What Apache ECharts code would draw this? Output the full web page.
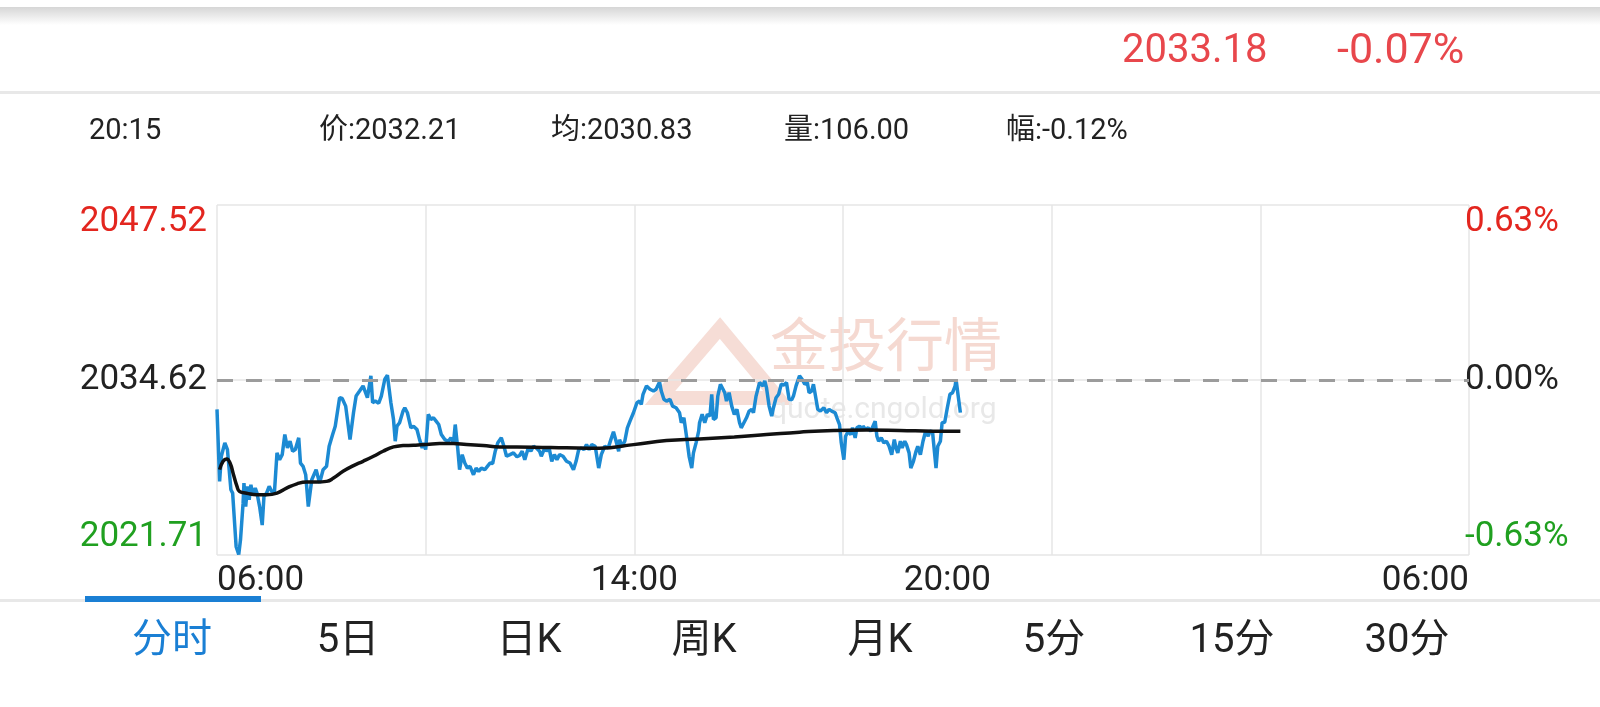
<!DOCTYPE html>
<html>
<head>
<meta charset="utf-8">
<script src="https://cdn.jsdelivr.net/npm/echarts@6/dist/echarts.min.js"></script>
<style>
html,body{margin:0;padding:0;background:#fff;}
#chart{width:1600px;height:707px;}
</style>
</head>
<body>
<div id="chart"></div>
<script>
// ---------- data ----------
const prevClose = 2034.62;
const yMin = 2021.71;
const yMax = 2047.52;
const yLeftLabels = ['2021.71', '2034.62', '2047.52'];
const yRightLabels = ['-0.63%', '0.00%', '0.63%'];
const xLabelMinutes = [0, 480, 840, 1440];
const xLabelTexts = ['06:00', '14:00', '20:00', '06:00'];

const headerTexts = ['2033.18', '-0.07%'];
const infoTexts = ['20:15', '价:2032.21', '均:2030.83', '量:106.00', '幅:-0.12%'];
const tabTexts = ['分时', '5日', '日K', '周K', '月K', '5分', '15分', '30分'];
const watermarkTexts = ['金投行情', 'quote.cngold.org'];

// minutes after 06:00
const priceMinutes = [0,3,5,9,12,16,18,22,25,27,30,31,33,35,37,39,41,44,46,49,52,54,57,60,63,66,69,72,75,78,81,84,87,90,94,96,99,102,105,109,114,118,122,126,129,133,136,141,144,148,153,157,160,164,168,170,173,177,179,182,186,189,193,196,200,203,205,207,210,214,216,219,223,226,230,233,236,238,240,243,246,249,252,255,258,262,266,269,272,274,277,279,282,285,288,291,295,298,301,304,308,311,314,317,320,323,327,330,333,337,341,345,348,351,354,358,361,364,367,371,373,377,379,382,385,388,391,394,398,402,406,410,413,416,419,422,425,428,431,435,439,442,446,450,453,456,459,462,463,466,469,472,475,479,483,486,488,490,494,498,502,505,509,511,514,517,521,524,528,532,534,537,540,543,546,548,551,554,555,558,561,564,567,569,571,574,576,579,582,584,586,589,592,595,598,601,603,605,609,612,615,617,620,624,626,628,630,632,635,638,640,643,646,649,652,655,658,661,663,666,670,673,676,679,681,684,686,689,691,694,698,701,704,707,711,713,716,718,721,723,726,729,731,734,736,739,742,743,746,749,752,754,757,759,761,764,767,770,773,776,779,781,783,786,788,791,793,796,798,801,804,806,809,812,815,818,820,823,824,827,829,832,834,837,840,843,846,849,850,852,855];
const priceValues = [2032.45,2027.14,2028.99,2029.98,2029.48,2026.52,2026.27,2022.32,2021.75,2022.81,2025.53,2027.01,2025.28,2026.77,2025.78,2026.89,2026.15,2026.64,2026.27,2025.28,2023.92,2026.02,2026.27,2026.77,2026.39,2026.27,2029.24,2028.74,2029.11,2030.59,2029.61,2030.10,2029.36,2029.48,2030.35,2028.49,2028.25,2027.63,2025.28,2027.26,2028.00,2027.01,2028.00,2028.25,2029.73,2030.59,2031.21,2033.31,2033.25,2032.69,2030.22,2032.20,2033.43,2033.80,2034.18,2034.05,2033.31,2034.92,2032.94,2033.06,2032.90,2033.43,2034.67,2034.97,2032.94,2031.71,2030.10,2031.21,2031.46,2032.32,2032.57,2032.20,2031.09,2031.21,2030.96,2030.22,2029.61,2029.98,2029.48,2032.08,2031.71,2031.83,2031.58,2031.33,2030.59,2030.22,2030.10,2030.35,2029.98,2031.33,2029.48,2028.00,2029.11,2028.49,2028.12,2028.25,2027.63,2028.12,2027.88,2028.12,2028.00,2028.25,2028.49,2028.45,2029.36,2029.98,2030.35,2029.73,2028.99,2029.11,2029.24,2028.95,2029.05,2029.36,2028.74,2029.61,2029.36,2029.73,2029.61,2029.36,2028.99,2029.61,2029.36,2029.61,2028.62,2029.11,2028.74,2029.11,2028.99,2028.62,2028.49,2028.00,2028.62,2029.48,2029.61,2029.48,2029.85,2029.48,2029.85,2029.73,2028.12,2029.11,2029.73,2029.61,2030.22,2030.80,2030.10,2029.36,2030.22,2029.73,2030.10,2031.09,2031.58,2032.20,2032.94,2033.06,2032.82,2033.56,2034.18,2033.93,2033.80,2033.93,2034.47,2033.80,2033.19,2033.06,2033.19,2032.69,2032.57,2032.20,2031.46,2031.83,2030.47,2028.99,2028.12,2029.24,2029.98,2030.84,2031.46,2032.08,2031.46,2032.08,2031.95,2033.56,2031.71,2031.83,2033.43,2034.30,2033.93,2033.68,2033.06,2033.68,2032.69,2032.08,2032.45,2031.46,2031.09,2031.33,2031.83,2032.32,2032.45,2032.20,2033.43,2034.42,2034.30,2034.18,2034.55,2034.05,2032.69,2031.95,2032.57,2033.31,2033.56,2034.30,2034.25,2034.42,2033.19,2033.15,2033.43,2034.18,2034.92,2034.67,2034.30,2034.42,2033.68,2033.80,2034.30,2033.19,2032.45,2032.32,2032.57,2032.20,2032.45,2032.32,2032.20,2031.83,2031.33,2029.98,2028.74,2030.47,2030.84,2030.59,2031.09,2030.35,2031.09,2031.21,2030.96,2031.21,2030.96,2031.09,2030.84,2030.80,2031.58,2030.47,2030.10,2030.35,2029.98,2030.10,2029.73,2029.11,2030.22,2029.61,2029.24,2030.10,2029.61,2030.10,2029.85,2029.24,2028.12,2028.62,2029.36,2029.73,2029.11,2030.10,2030.84,2030.47,2030.84,2030.80,2030.10,2028.12,2029.73,2030.10,2031.46,2031.50,2032.57,2033.56,2033.68,2034.18,2034.67,2033.68,2032.21];

const avgMinutes = [3,7,11,15,19,23,26,34,46,57,69,80,92,103,115,126,134,145,157,168,180,191,203,214,226,241,256,272,287,306,325,364,402,440,479,517,555,595,632,670,709,747,785,824,855];
const avgValues = [2028.00,2028.62,2028.79,2028.49,2027.63,2026.77,2026.39,2026.27,2026.15,2026.15,2026.27,2026.64,2026.96,2027.09,2027.09,2027.14,2027.38,2027.88,2028.30,2028.62,2028.99,2029.36,2029.68,2029.78,2029.80,2029.85,2029.93,2029.93,2029.85,2029.78,2029.68,2029.66,2029.61,2029.58,2029.85,2030.15,2030.27,2030.42,2030.59,2030.77,2030.89,2030.92,2030.89,2030.84,2030.83];

// ---------- styles ----------
const FONT = 'Roboto, "Noto Sans CJK SC", sans-serif';
const RED = '#e3261f';
const GREEN = '#20a020';
const HEAD_RED = '#e8474c';
const BLUE = '#1c8ad3';
const GRID_C = '#e6e6e6';
const AXIS_FS = 35;

const priceData = priceMinutes.map((m, i) => [m, priceValues[i]]);
const avgData = avgMinutes.map((m, i) => [m, avgValues[i]]);

const chart = echarts.init(document.getElementById('chart'), null, {renderer: 'canvas'});

const infoX = [89, 319, 551, 784, 1006];
const tabX = [172, 348, 529, 704, 880, 1054, 1232, 1407];

const graphics = [];
// top shadow
graphics.push({type: 'rect', z: -10, shape: {x: 0, y: 7, width: 1600, height: 18},
  style: {fill: new echarts.graphic.LinearGradient(0, 0, 0, 1, [{offset: 0, color: '#d6d6d6'}, {offset: 1, color: '#ffffff'}])}});
// separator lines
graphics.push({type: 'rect', z: -10, shape: {x: 0, y: 91, width: 1600, height: 3}, style: {fill: '#e8e8e8'}});
graphics.push({type: 'rect', z: -10, shape: {x: 0, y: 599, width: 1600, height: 3}, style: {fill: '#e8e8e8'}});
graphics.push({type: 'rect', z: -9, shape: {x: 85, y: 596, width: 176, height: 6}, style: {fill: '#1a7fd4'}});
// header
graphics.push({type: 'text', style: {text: headerTexts[0], x: 1122, y: 52, fill: HEAD_RED, fontSize: 40, fontFamily: FONT, textAlign: 'left', textVerticalAlign: 'middle'}});
graphics.push({type: 'text', style: {text: headerTexts[1], x: 1337, y: 52, fill: HEAD_RED, fontSize: 43, fontFamily: FONT, textAlign: 'left', textVerticalAlign: 'middle'}});
// info row
infoTexts.forEach((t, i) => graphics.push({type: 'text', style: {text: t, x: infoX[i], y: 132, fill: '#222', fontSize: 29, fontFamily: FONT, textAlign: 'left', textVerticalAlign: 'middle'}}));
// tabs
tabTexts.forEach((t, i) => graphics.push({type: 'text', style: {text: t, x: tabX[i], y: 642, fill: i === 0 ? '#1a7fd4' : '#222', fontSize: 40, fontFamily: FONT, textAlign: 'center', textVerticalAlign: 'middle'}}));
// watermark
graphics.push({type: 'polygon', z: -5, shape: {points: [[720, 328], [660, 398], [778, 398]]}, style: {fill: 'none', stroke: '#f6ddd6', lineWidth: 14}});
graphics.push({type: 'text', z: -5, style: {text: watermarkTexts[0], x: 770, y: 351, fill: '#f5d9d1', fontSize: 58, fontFamily: FONT, textAlign: 'left', textVerticalAlign: 'middle'}});
graphics.push({type: 'text', z: -5, style: {text: watermarkTexts[1], x: 770, y: 410, fill: '#e8e8e8', fontSize: 30, fontFamily: FONT, textAlign: 'left', textVerticalAlign: 'middle'}});

const richStyles = {lo: {color: GREEN, fontSize: AXIS_FS, fontFamily: FONT}, mid: {color: '#222', fontSize: AXIS_FS, fontFamily: FONT}, hi: {color: RED, fontSize: AXIS_FS, fontFamily: FONT}};

const option = {
  animation: false,
  backgroundColor: '#fff',
  graphic: graphics,
  grid: {left: 217, right: 131, top: 205, bottom: 152, containLabel: false},
  xAxis: [
    {type: 'value', min: 0, max: 1440, interval: 240,
      axisLine: {show: false}, axisTick: {show: false}, axisLabel: {show: false},
      splitLine: {show: true, lineStyle: {color: GRID_C, width: 1.5}}},
    {type: 'value', min: 0, max: 1440, interval: 120, position: 'bottom',
      axisLine: {show: false}, axisTick: {show: false}, splitLine: {show: false},
      axisLabel: {show: true, margin: 9, color: '#222', fontSize: AXIS_FS, fontFamily: FONT,
        alignMinLabel: 'left', alignMaxLabel: 'right', showMinLabel: true, showMaxLabel: true,
        formatter: function (v) { const i = xLabelMinutes.indexOf(v); return i >= 0 ? xLabelTexts[i] : ''; }}}
  ],
  yAxis: [
    {type: 'value', min: yMin, max: yMax, interval: (yMax - yMin) / 2, position: 'left',
      axisLine: {show: false}, axisTick: {show: false},
      splitLine: {show: true, lineStyle: {color: GRID_C, width: 1.5}},
      axisLabel: {margin: 10, fontSize: AXIS_FS, fontFamily: FONT,
        verticalAlignMinLabel: 'bottom', verticalAlignMaxLabel: 'top',
        formatter: function (v, i) { const k = ['lo', 'mid', 'hi'][i]; return '{' + k + '|' + yLeftLabels[i] + '}'; },
        rich: richStyles}},
    {type: 'value', min: yMin, max: yMax, interval: (yMax - yMin) / 2, position: 'right',
      axisLine: {show: false}, axisTick: {show: false}, splitLine: {show: false},
      axisLabel: {margin: -4, fontSize: AXIS_FS, fontFamily: FONT,
        verticalAlignMinLabel: 'bottom', verticalAlignMaxLabel: 'top',
        formatter: function (v, i) { const k = ['lo', 'mid', 'hi'][i]; return '{' + k + '|' + yRightLabels[i] + '}'; },
        rich: richStyles}}
  ],
  series: [
    {name: 'price', type: 'line', xAxisIndex: 0, yAxisIndex: 0, data: priceData,
      showSymbol: false, symbol: 'none', z: 3,
      lineStyle: {color: BLUE, width: 3.5}, itemStyle: {color: BLUE},
      markLine: {silent: true, symbol: 'none', label: {show: false},
        lineStyle: {color: '#9c9c9c', width: 3, type: [16, 13]},
        data: [{yAxis: prevClose}]}},
    {name: 'avg', type: 'line', xAxisIndex: 0, yAxisIndex: 0, data: avgData,
      showSymbol: false, symbol: 'none', smooth: 0.5, z: 4,
      lineStyle: {color: '#111', width: 3.5}, itemStyle: {color: '#111'}}
  ]
};
chart.setOption(option);
</script>
</body>
</html>
